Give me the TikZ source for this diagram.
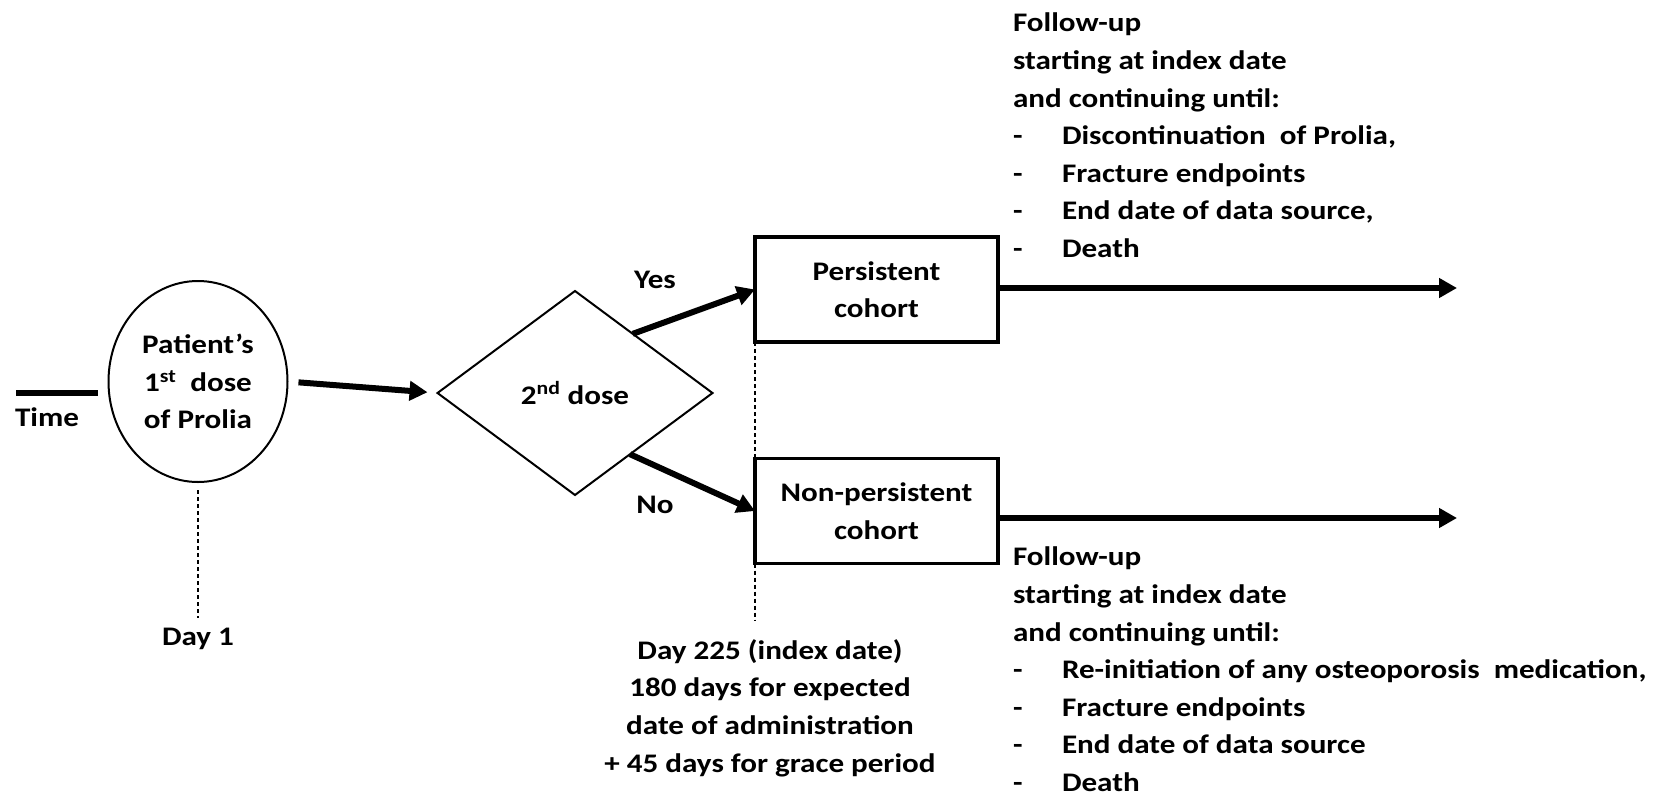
\documentclass[tikz,border=0pt]{standalone}
\usepackage{fontspec}
\setmainfont{Carlito}[FakeStretch=1.16]
\usetikzlibrary{shapes.geometric,arrows.meta,calc}
\begin{document}
\begin{tikzpicture}[x=1pt,y=-1pt,
  every node/.style={font=\fontsize{26.8}{37.6}\selectfont\bfseries, inner sep=0pt, outer sep=0pt},
  thickarrow/.style={line width=6pt, -{Triangle[length=18pt,width=19pt]}},
  cohortbox/.style={draw, line width=3.5pt, minimum width=243pt, minimum height=105pt, align=center},
  guide/.style={line width=1.2pt, dash pattern=on 4pt off 3pt},
  label/.style={align=center},
  listblock/.style={align=left, anchor=north west}
]
\useasboundingbox (0,0) rectangle (1669,795);

% time line
\coordinate (t0) at (16,393);
\coordinate (t1) at (98,393);
\draw[line width=6pt] (t0) -- (t1);
\node (timelbl) at (47,417) {Time};

% first dose
\node[ellipse, draw, line width=2pt, minimum width=179pt, minimum height=201pt, align=center]
  (e1) at (198,381.5) {Patient’s\\1\textsuperscript{st}\ \ dose\\of Prolia};

% decision
\node[diamond, draw, line width=2pt, minimum width=275pt, minimum height=204pt]
  (d) at (575,393) {2\textsuperscript{nd} dose};

\draw[thickarrow, shorten <=11pt, shorten >=10pt] (e1.east) -- (d.west);

% cohorts
\node[cohortbox] (p) at (876.5,289.5) {Persistent\\cohort};
\node[cohortbox] (np) at (876.5,511) {Non-persistent\\cohort};

\draw[thickarrow] ($(d.north)!0.42!(d.east)$) -- (p.west);
\draw[thickarrow] ($(d.south)!0.40!(d.east)$) -- (np.west);
\node (yes) at (655,280) {Yes};
\node (no) at (655,505) {No};

% follow-up arrows
\coordinate (pe) at (1457,288);
\coordinate (npe) at (1457,518);
\draw[thickarrow] (p.east |- pe) -- (pe);
\draw[thickarrow] (np.east |- npe) -- (npe);

% guides
\coordinate (d1) at (198,618);
\draw[guide, shorten <=8pt] (e1.south) -- (d1);
\node (day1) at (198,639) {Day 1};

\coordinate (idx) at (755,620);
\draw[guide] (p.south west) -- (np.north west);
\draw[guide] (np.south west) -- (idx);
\node[label] (idxlbl) at (770,708) {Day 225 (index date)\\180 days for expected\\date of administration\\+ 45 days for grace period};

% follow-up texts
\node[listblock] (fu1) at (1013,13) {Follow-up\\starting at index date\\and continuing until:\\
\makebox[49pt][l]{-}Discontinuation\ \ of Prolia,\\
\makebox[49pt][l]{-}Fracture endpoints\\
\makebox[49pt][l]{-}End date of data source,\\
\makebox[49pt][l]{-}Death};
\node[listblock] (fu2) at (1013,547) {Follow-up\\starting at index date\\and continuing until:\\
\makebox[49pt][l]{-}Re-initiation of any osteoporosis\ \ medication,\\
\makebox[49pt][l]{-}Fracture endpoints\\
\makebox[49pt][l]{-}End date of data source\\
\makebox[49pt][l]{-}Death};
\end{tikzpicture}
\end{document}
